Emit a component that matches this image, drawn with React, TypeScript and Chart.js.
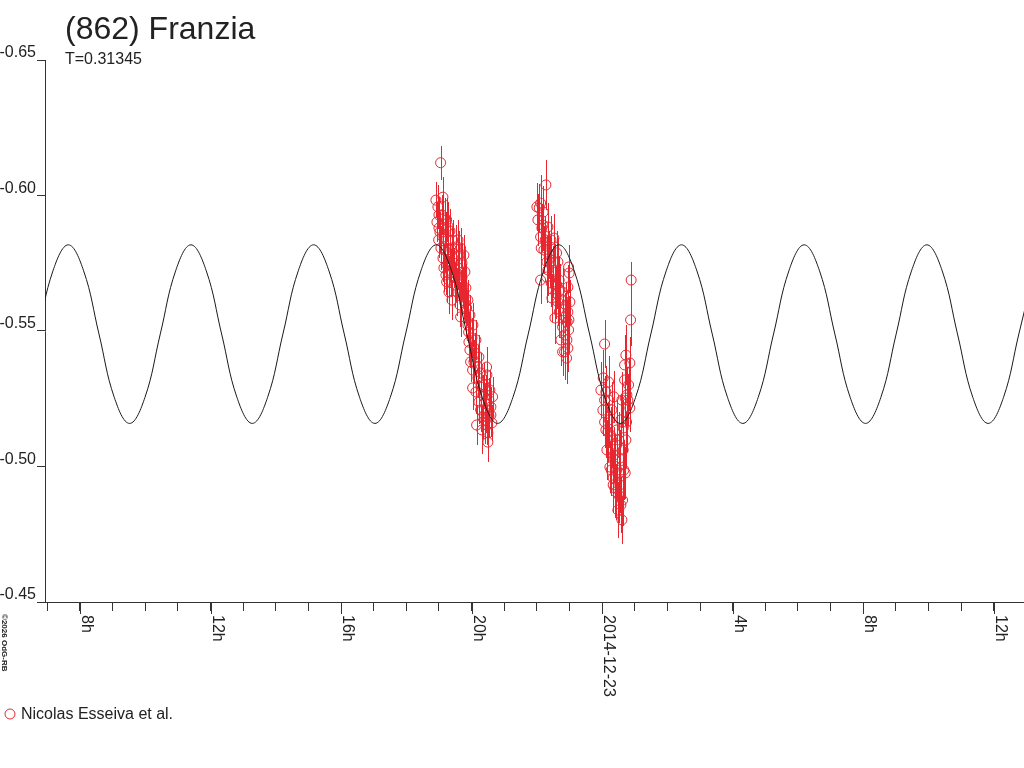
import React, { useEffect, useRef } from "react";
import { Chart, registerables } from "chart.js";

Chart.register(...registerables);

const TITLE = "(862) Franzia";
const SUBTITLE = "T=0.31345";
const LEGEND_LABEL = "Nicolas Esseiva et al.";
const COPYRIGHT = "\u00a92026 OdG-RB";

const FONT = '"Liberation Sans", Arial, sans-serif';
const RED = "#e8262f";
const INK = "#222222";

// x axis: hours since 2014-12-22 00:00
const X_MIN = 6.928;
const X_MAX = 36.928;
const Y_MIN = -0.65;
const Y_MAX = -0.45;

const yTickValues = [-0.65, -0.6, -0.55, -0.5, -0.45];
const xTickHours = [7, 8, 9, 10, 11, 12, 13, 14, 15, 16, 17, 18, 19, 20, 21, 22, 23, 24, 25, 26, 27, 28, 29, 30, 31, 32, 33, 34, 35, 36];
const xLabelHours = [8, 12, 16, 20, 24, 28, 32, 36];
const xLabelTexts = ["8h", "12h", "16h", "20h", "2014-12-23", "4h", "8h", "12h"];

// model curve
const curveHours = [
  6.702, 7.172, 7.642, 8.112, 8.582, 9.051, 9.521, 9.991, 10.461, 10.931,
  11.400, 11.870, 12.340, 12.810, 13.280, 13.749, 14.219, 14.689,
  15.159, 15.629, 16.098, 16.568, 17.038, 17.508, 17.978, 18.447,
  18.917, 19.387, 19.857, 20.327, 20.796, 21.266, 21.736, 22.206,
  22.676, 23.145, 23.615, 24.085, 24.555, 25.025, 25.494, 25.964,
  26.434, 26.904, 27.374, 27.843, 28.313, 28.783, 29.253, 29.723,
  30.192, 30.662, 31.132, 31.602, 32.072, 32.541, 33.011, 33.481,
  33.951, 34.421, 34.890, 35.360, 35.830, 36.300, 36.770, 37.239,
];
const curveMag = [
  -0.5489, -0.5722, -0.5818, -0.5722, -0.5489, -0.5255, -0.5159, -0.5255, -0.5489, -0.5722,
  -0.5818, -0.5722, -0.5489, -0.5255, -0.5159, -0.5255, -0.5489, -0.5722,
  -0.5818, -0.5722, -0.5489, -0.5255, -0.5159, -0.5255, -0.5489, -0.5722,
  -0.5818, -0.5722, -0.5489, -0.5255, -0.5159, -0.5255, -0.5489, -0.5722,
  -0.5818, -0.5722, -0.5489, -0.5255, -0.5159, -0.5255, -0.5489, -0.5722,
  -0.5818, -0.5722, -0.5489, -0.5255, -0.5159, -0.5255, -0.5489, -0.5722,
  -0.5818, -0.5722, -0.5489, -0.5255, -0.5159, -0.5255, -0.5489, -0.5722,
  -0.5818, -0.5722, -0.5489, -0.5255, -0.5159, -0.5255, -0.5489, -0.5722,
];

// observations, session 1
const obsHours1 = [
  19.051, 18.907, 19.122, 18.968, 18.999, 19.174, 19.235, 19.030, 19.213, 19.336,
  19.112, 18.990, 19.275, 19.419, 19.520, 19.664, 19.183, 19.612, 19.765, 19.244,
  19.213, 19.367, 19.581, 19.704, 19.796, 19.235, 19.305, 19.612, 19.734, 19.765,
  19.796, 19.848, 19.664, 19.826, 19.887, 19.909, 19.918, 19.949, 20.102, 20.224,
  19.970, 20.031, 20.460, 20.470, 20.031, 20.133, 20.286, 20.561, 20.644, 20.224,
  20.399, 20.592, 20.277, 20.439, 20.338, 20.154, 20.623, 20.500, 20.408, 20.500,
  18.938, 19.060, 19.122, 19.428, 19.489, 19.550, 19.336, 19.673, 19.887, 20.010,
  20.071, 20.194, 20.347, 20.531,
  18.999, 19.091, 19.275, 19.397, 19.459, 19.520, 19.305, 19.397, 19.704, 19.826,
  19.949, 20.041, 20.133, 20.194, 20.286, 20.378, 20.439, 20.531, 20.316, 20.470,
  20.592, 19.581, 19.152, 19.642,
];
const obsMag1 = [
  -0.6121, -0.5983, -0.5994, -0.5958, -0.5928, -0.5917, -0.5910, -0.5865, -0.5873, -0.5869,
  -0.5847, -0.5836, -0.5836, -0.5836, -0.5810, -0.5806, -0.5799, -0.5780, -0.5780, -0.5744,
  -0.5707, -0.5714, -0.5733, -0.5751, -0.5718, -0.5681, -0.5688, -0.5696, -0.5662, -0.5625,
  -0.5603, -0.5585, -0.5552, -0.5548, -0.5522, -0.5496, -0.5459, -0.5430, -0.5419, -0.5404,
  -0.5386, -0.5356, -0.5367, -0.5338, -0.5290, -0.5275, -0.5293, -0.5282, -0.5257, -0.5238,
  -0.5234, -0.5220, -0.5209, -0.5197, -0.5183, -0.5153, -0.5161, -0.5124, -0.5172, -0.5090,
  -0.5902, -0.5806, -0.5769, -0.5769, -0.5670, -0.5644, -0.5755, -0.5644, -0.5614, -0.5474,
  -0.5386, -0.5327, -0.5264, -0.5186,
  -0.5880, -0.5928, -0.5887, -0.5799, -0.5733, -0.5696, -0.5644, -0.5614, -0.5696, -0.5659,
  -0.5559, -0.5522, -0.5467, -0.5367, -0.5345, -0.5301, -0.5264, -0.5245, -0.5135, -0.5153,
  -0.5190, -0.5836, -0.5733, -0.5596,
];
const obsErr1 = [
  0.0063, 0.0066, 0.0074, 0.0081, 0.0066, 0.0074, 0.0081, 0.0074, 0.0066, 0.0081,
  0.0074, 0.0066, 0.0089, 0.0074, 0.0081, 0.0074, 0.0081, 0.0089, 0.0074, 0.0081,
  0.0074, 0.0089, 0.0081, 0.0074, 0.0081, 0.0074, 0.0089, 0.0081, 0.0074, 0.0081,
  0.0074, 0.0066, 0.0074, 0.0074, 0.0066, 0.0074, 0.0074, 0.0066, 0.0074, 0.0081,
  0.0074, 0.0081, 0.0074, 0.0074, 0.0081, 0.0081, 0.0074, 0.0074, 0.0074, 0.0081,
  0.0074, 0.0074, 0.0081, 0.0074, 0.0081, 0.0074, 0.0066, 0.0081, 0.0089, 0.0074,
  0.0074, 0.0081, 0.0089, 0.0081, 0.0081, 0.0089, 0.0074, 0.0081, 0.0074, 0.0074,
  0.0081, 0.0074, 0.0074, 0.0081,
  0.0081, 0.0074, 0.0089, 0.0081, 0.0074, 0.0089, 0.0081, 0.0074, 0.0081, 0.0089,
  0.0074, 0.0081, 0.0074, 0.0081, 0.0074, 0.0081, 0.0074, 0.0081, 0.0089, 0.0074,
  0.0081, 0.0074, 0.0089, 0.0081,
];

// observations, session 2
const obsHours2 = [
  22.277, 22.115, 22.072, 22.194, 22.338, 22.115, 22.256, 22.522, 22.133, 22.216,
  22.605, 22.378, 22.645, 22.115, 22.299, 22.501, 22.973, 22.440, 22.685, 22.991,
  22.789, 22.584, 22.951, 22.645, 22.890, 23.012, 22.685, 22.850, 22.951, 22.789,
  22.930, 22.973, 22.850, 22.789, 22.951, 22.911, 22.185, 22.400, 22.461, 22.553,
  22.737, 22.001,
  22.032, 22.155, 22.308, 22.430, 22.553, 22.614, 22.706, 22.798, 22.859, 22.921,
  22.982, 22.338,
];
const obsMag2 = [
  -0.6039, -0.5972, -0.5954, -0.5939, -0.5884, -0.5847, -0.5836, -0.5843, -0.5806, -0.5799,
  -0.5788, -0.5780, -0.5755, -0.5688, -0.5699, -0.5718, -0.5736, -0.5677, -0.5688, -0.5714,
  -0.5644, -0.5640, -0.5662, -0.5607, -0.5596, -0.5607, -0.5570, -0.5552, -0.5570, -0.5515,
  -0.5533, -0.5504, -0.5423, -0.5423, -0.5437, -0.5400, -0.5891, -0.5755, -0.5622, -0.5548,
  -0.5467, -0.5958,
  -0.5910, -0.5880, -0.5755, -0.5836, -0.5725, -0.5670, -0.5651, -0.5614, -0.5485, -0.5467,
  -0.5541, -0.5725,
];
const obsErr2 = [
  0.0092, 0.0103, 0.0089, 0.0096, 0.0089, 0.0096, 0.0089, 0.0089, 0.0096, 0.0089,
  0.0081, 0.0089, 0.0089, 0.0089, 0.0096, 0.0096, 0.0081, 0.0089, 0.0089, 0.0074,
  0.0089, 0.0096, 0.0081, 0.0089, 0.0081, 0.0081, 0.0096, 0.0089, 0.0081, 0.0089,
  0.0081, 0.0081, 0.0103, 0.0089, 0.0089, 0.0096, 0.0096, 0.0096, 0.0089, 0.0096,
  0.0096, 0.0089,
  0.0096, 0.0089, 0.0096, 0.0089, 0.0096, 0.0089, 0.0096, 0.0089, 0.0096, 0.0103,
  0.0089, 0.0096,
];

// observations, session 3
const obsHours3 = [
  24.890, 24.872, 24.076, 24.728, 24.850, 24.688, 24.033, 24.198, 24.688, 24.811,
  24.360, 24.076, 24.707, 24.850, 24.076, 24.216, 24.750, 24.177, 24.259, 24.645,
  24.443, 24.645, 24.238, 24.278, 24.523, 24.707, 24.339, 24.339, 24.544, 24.422,
  24.627, 24.504, 24.606, 24.115, 24.299, 24.452, 24.544, 24.759, 24.391,
  23.962, 24.023, 24.115, 24.146, 24.207, 24.299, 24.360, 24.452, 24.514, 24.575,
  24.606, 24.667, 24.728, 24.789, 24.483, 24.391, 24.575,
];
const obsMag3 = [
  -0.5688, -0.5541, -0.5452, -0.5411, -0.5382, -0.5375, -0.5327, -0.5312, -0.5319, -0.5301,
  -0.5257, -0.5245, -0.5253, -0.5216, -0.5164, -0.5172, -0.5164, -0.5127, -0.5116, -0.5142,
  -0.5079, -0.5061, -0.4998, -0.4987, -0.4976, -0.4976, -0.4958, -0.4932, -0.4932, -0.4906,
  -0.4876, -0.4895, -0.4803, -0.5275, -0.5209, -0.5135, -0.5031, -0.5264, -0.5024,
  -0.5282, -0.5208, -0.5135, -0.5061, -0.5245, -0.5098, -0.5042, -0.4987, -0.5098, -0.5172,
  -0.5245, -0.4987, -0.5098, -0.5245, -0.4839, -0.4921, -0.4858,
];
const obsErr3 = [
  0.0066, 0.0096, 0.0089, 0.0111, 0.0096, 0.0111, 0.0103, 0.0096, 0.0103, 0.0096,
  0.0096, 0.0089, 0.0103, 0.0089, 0.0096, 0.0103, 0.0111, 0.0111, 0.0103, 0.0103,
  0.0103, 0.0103, 0.0096, 0.0096, 0.0103, 0.0096, 0.0103, 0.0103, 0.0103, 0.0103,
  0.0096, 0.0103, 0.0089, 0.0096, 0.0103, 0.0111, 0.0103, 0.0103, 0.0096,
  0.0103, 0.0096, 0.0103, 0.0111, 0.0096, 0.0103, 0.0103, 0.0111, 0.0103, 0.0096,
  0.0103, 0.0111, 0.0103, 0.0096, 0.0103, 0.0111, 0.0103,
];

const obsHours = [...obsHours1, ...obsHours2, ...obsHours3];
const obsMag = [...obsMag1, ...obsMag2, ...obsMag3];
const obsErr = [...obsErr1, ...obsErr2, ...obsErr3];

const errorBarPlugin = {
  id: "errorBars",
  beforeDatasetsDraw(chart: any) {
    const { ctx, chartArea, scales } = chart;
    const xs = scales.x;
    const ys = scales.y;
    ctx.save();
    ctx.beginPath();
    ctx.rect(chartArea.left, chartArea.top, chartArea.right - chartArea.left, chartArea.bottom - chartArea.top);
    ctx.clip();
    ctx.lineWidth = 1;
    ctx.strokeStyle = RED;
    ctx.beginPath();
    for (let i = 0; i < obsHours.length; i++) {
      const px = Math.round(xs.getPixelForValue(obsHours[i])) + 0.5;
      const y1 = Math.round(ys.getPixelForValue(obsMag[i] - obsErr[i]));
      const y2 = Math.round(ys.getPixelForValue(obsMag[i] + obsErr[i]));
      ctx.moveTo(px, y1);
      ctx.lineTo(px, y2);
    }
    ctx.stroke();
    ctx.restore();
  },
};

const decorPlugin = {
  id: "decor",
  afterDraw(chart: any) {
    const { ctx, scales } = chart;
    const xs = scales.x;
    const axisY = xs.top;
    ctx.save();
    ctx.fillStyle = INK;
    ctx.textAlign = "left";
    ctx.textBaseline = "alphabetic";
    ctx.font = `32px ${FONT}`;
    ctx.fillText(TITLE, 65, 39);
    ctx.font = `16px ${FONT}`;
    ctx.fillText(SUBTITLE, 65, 64);

    // major tick extensions and rotated labels
    ctx.strokeStyle = "#333333";
    ctx.lineWidth = 1;
    ctx.font = `16px ${FONT}`;
    for (let i = 0; i < xLabelHours.length; i++) {
      const px = Math.round(xs.getPixelForValue(xLabelHours[i]));
      ctx.beginPath();
      ctx.moveTo(px + 0.5, axisY);
      ctx.lineTo(px + 0.5, axisY + 12);
      ctx.stroke();
      ctx.save();
      ctx.translate(px, axisY + 13);
      ctx.rotate(Math.PI / 2);
      ctx.textAlign = "left";
      ctx.textBaseline = "alphabetic";
      ctx.fillText(xLabelTexts[i], 0, -2);
      ctx.restore();
    }

    // copyright
    ctx.save();
    ctx.font = `bold 8px ${FONT}`;
    ctx.translate(1, 614);
    ctx.rotate(Math.PI / 2);
    ctx.textAlign = "left";
    ctx.textBaseline = "alphabetic";
    ctx.fillText(COPYRIGHT, 0, -1);
    ctx.restore();

    // legend
    ctx.strokeStyle = RED;
    ctx.beginPath();
    ctx.arc(10, 714, 5, 0, Math.PI * 2);
    ctx.stroke();
    ctx.fillStyle = INK;
    ctx.font = `16px ${FONT}`;
    ctx.textBaseline = "alphabetic";
    ctx.fillText(LEGEND_LABEL, 21, 719);
    ctx.restore();
  },
};

export default function App() {
  const canvasRef = useRef<HTMLCanvasElement | null>(null);

  useEffect(() => {
    const canvas = canvasRef.current;
    if (!canvas) return;
    const chart = new Chart(canvas, {
      type: "scatter",
      data: {
        datasets: [
          {
            type: "line",
            data: curveHours.map((x, i) => ({ x, y: curveMag[i] })),
            borderColor: "#1a1a1a",
            borderWidth: 1,
            pointRadius: 0,
            tension: 0.4,
            fill: false,
            order: 0,
          } as any,
          {
            type: "scatter",
            data: obsHours.map((x, i) => ({ x, y: obsMag[i] })),
            pointStyle: "circle",
            pointRadius: 5,
            borderColor: RED,
            backgroundColor: "rgba(0,0,0,0)",
            borderWidth: 1,
            showLine: false,
            order: 1,
          } as any,
        ],
      },
      options: {
        animation: false,
        responsive: false,
        events: [],
        layout: { autoPadding: false, padding: { top: 60, left: 0, right: 0, bottom: 0 } },
        plugins: {
          legend: { display: false },
          tooltip: { enabled: false },
          title: { display: false },
        },
        scales: {
          x: {
            type: "linear",
            min: X_MIN,
            max: X_MAX,
            afterFit: (s: any) => {
              s.height = 166;
              s.paddingLeft = 0;
              s.paddingRight = 0;
            },
            afterBuildTicks: (s: any) => {
              s.ticks = xTickHours.map((v) => ({ value: v }));
            },
            ticks: { callback: () => "", autoSkip: false, maxRotation: 0, minRotation: 0, padding: 0 },
            grid: {
              display: true,
              drawOnChartArea: false,
              drawTicks: true,
              tickLength: 9,
              color: "#333333",
              lineWidth: 1,
            },
            border: { display: true, color: "#333333", width: 1 },
          },
          y: {
            type: "linear",
            reverse: true,
            min: Y_MIN,
            max: Y_MAX,
            afterFit: (s: any) => {
              s.width = 45;
              s.paddingTop = 0;
              s.paddingBottom = 0;
            },
            afterBuildTicks: (s: any) => {
              s.ticks = yTickValues.map((v) => ({ value: v }));
            },
            ticks: {
              callback: (v: any) => Number(v).toFixed(2),
              font: { family: FONT, size: 16 },
              color: INK,
              padding: 1,
              labelOffset: -7,
            },
            grid: {
              display: true,
              drawOnChartArea: false,
              drawTicks: true,
              tickLength: 8,
              color: "#333333",
              lineWidth: 1,
            },
            border: { display: true, color: "#333333", width: 1 },
          },
        },
      },
      plugins: [errorBarPlugin, decorPlugin],
    } as any);
    return () => chart.destroy();
  }, []);

  return (
    <div style={{ position: "fixed", left: 0, top: 0, width: 1024, height: 768, background: "#ffffff" }}>
      <canvas ref={canvasRef} width={1024} height={768} style={{ display: "block" }} />
    </div>
  );
}
